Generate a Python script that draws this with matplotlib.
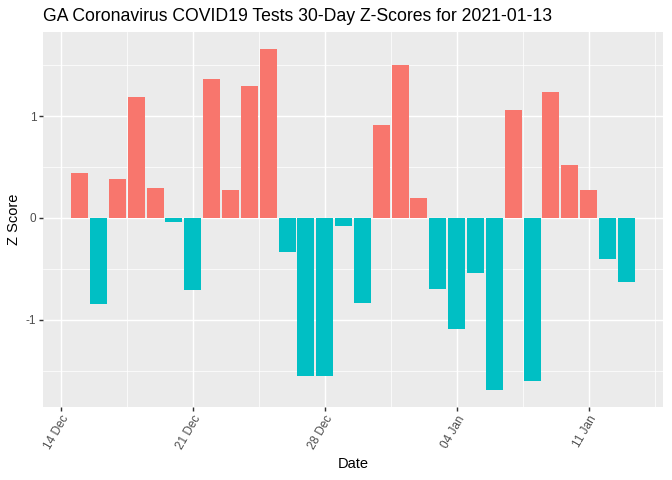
import matplotlib
matplotlib.use("Agg")
import matplotlib.pyplot as plt
import pandas as pd

plt.rcParams['font.family'] = ['Liberation Sans', 'DejaVu Sans']

# 30 days of z-scores, Dec 15 2020 .. Jan 13 2021
dates = pd.date_range("2020-12-15", "2021-01-13", freq="D")
zscores = [0.44, -0.85, 0.38, 1.19, 0.29, -0.04, -0.71, 1.37, 0.27, 1.30,
           1.66, -0.33, -1.55, -1.55, -0.08, -0.84, 0.91, 1.50, 0.20, -0.70,
           -1.09, -0.54, -1.69, 1.06, -1.60, 1.24, 0.52, 0.27, -0.40, -0.63]
tick_dates = pd.to_datetime(["2020-12-14", "2020-12-21", "2020-12-28", "2021-01-04", "2021-01-11"])
tick_labels = ["14 Dec", "21 Dec", "28 Dec", "04 Jan", "11 Jan"]

colors = ["#F8766D" if z >= 0 else "#00BFC4" for z in zscores]

fig = plt.figure(figsize=(7, 5), dpi=96)
ax = fig.add_axes([43 / 672, 73 / 480, 620 / 672, 375 / 480])
ax.set_facecolor("#EBEBEB")
for s in ax.spines.values():
    s.set_visible(False)

ax.bar(dates, zscores, width=0.9, color=colors, zorder=3)
ax.margins(x=0.05, y=0.05)

ax.set_xticks(tick_dates)
ax.set_xticklabels(tick_labels)
minor = tick_dates + pd.Timedelta(hours=84)
ax.set_xticks(minor, minor=True)
ax.set_yticks([-1, 0, 1])
ax.set_yticklabels(["-1", "0", "1"])
ax.set_yticks([-1.5, -0.5, 0.5, 1.5], minor=True)

ax.grid(True, which="major", color="white", linewidth=1.07, zorder=0)
ax.grid(True, which="minor", color="white", linewidth=0.53, zorder=0)
ax.set_axisbelow(True)

ax.tick_params(which="major", length=2.75, width=1.07, color="#333333",
               labelsize=8.8, labelcolor="#4D4D4D", pad=2.2)
ax.tick_params(which="minor", length=0)
for lbl in ax.get_xticklabels():
    lbl.set_rotation(60)
    lbl.set_ha("right")
    lbl.set_va("top")
    lbl.set_rotation_mode("anchor")

ax.set_xlabel("Date", fontsize=11, labelpad=4)
ax.set_ylabel("Z Score", fontsize=11, labelpad=4)
ax.set_title("GA Coronavirus COVID19 Tests 30-Day Z-Scores for 2021-01-13",
             fontsize=13.2, loc="left", pad=8)

fig.savefig("out.png", dpi=96)
